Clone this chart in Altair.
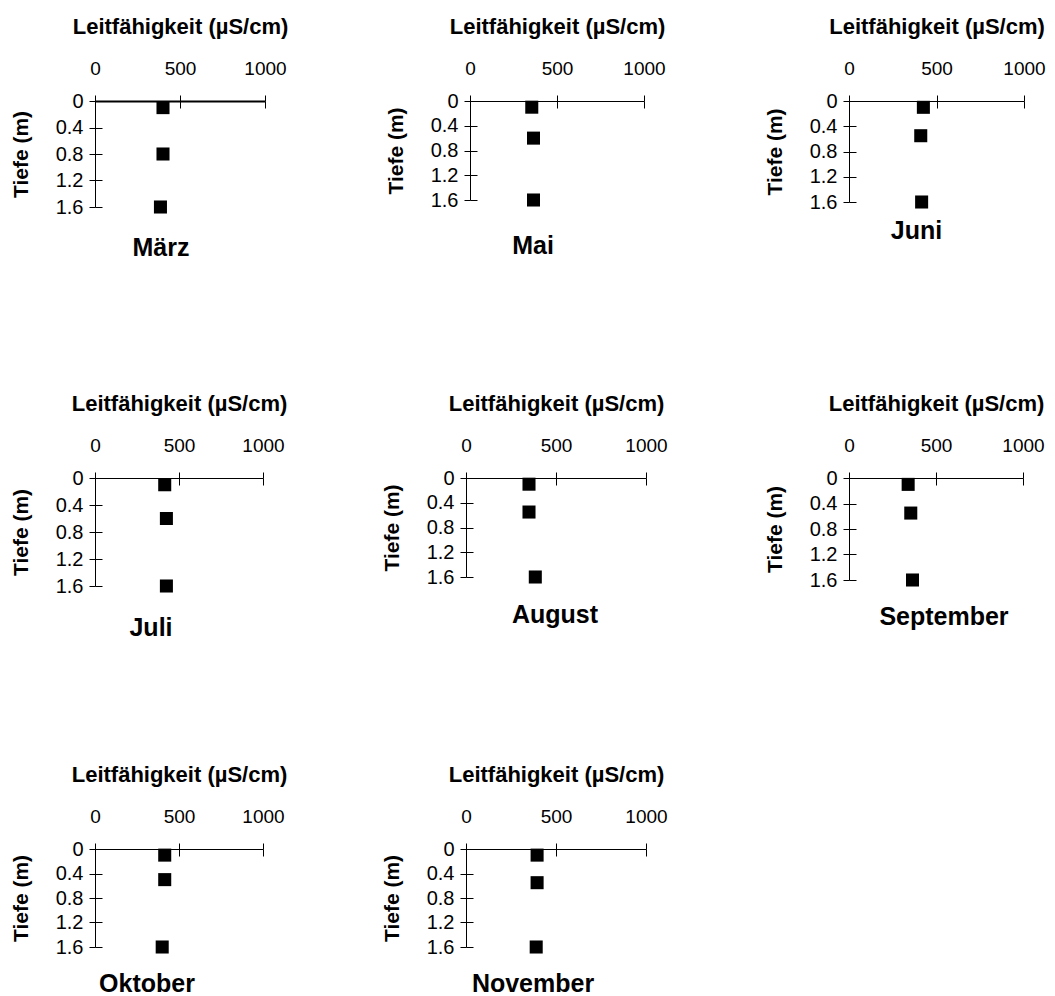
import altair as alt
import pandas as pd

# Monthly depth profiles of electrical conductivity
MONATE = ["März", "Mai", "Juni", "Juli", "August", "September", "Oktober", "November"]

TIEFE = [
    [0.1, 0.8, 1.6],   # März
    [0.1, 0.6, 1.6],   # Mai
    [0.1, 0.55, 1.6],  # Juni
    [0.1, 0.6, 1.6],   # Juli
    [0.1, 0.55, 1.6],  # August
    [0.1, 0.55, 1.6],  # September
    [0.1, 0.5, 1.6],   # Oktober
    [0.1, 0.55, 1.6],  # November
]

LEITFAEHIGKEIT = [
    [400, 400, 385],
    [355, 365, 365],
    [425, 410, 415],
    [415, 425, 425],
    [350, 350, 385],
    [340, 355, 365],
    [415, 415, 400],
    [395, 395, 390],
]

X_TICKS = [0, 500, 1000]
Y_TICKS = [0, 0.4, 0.8, 1.2, 1.6]

FONT = "Liberation Sans"

# panel geometry (plot area) and month-label placement
PANEL_W = [170, 174, 175, 168, 180, 174, 168, 180]
PANEL_H = [106, 99, 101, 108, 99, 102, 98, 98]
LABEL_DX = [-19, -24, -20, -28, -1, 8, -32, -23]
LABEL_OFFSET = [19, 24, 7, 20, 16, 15, 15, 15]
X_DOMAIN_W = [2, 1, 1, 1, 1, 1, 1, 1]
ROW_SPACING = [205, 203, 203]


def panel(i):
    df = pd.DataFrame({"Tiefe": TIEFE[i], "Leitfaehigkeit": LEITFAEHIGKEIT[i]})
    x_scale = alt.Scale(domain=[0, 1000], nice=False)
    y_scale = alt.Scale(domain=[0, 1.6], reverse=True, nice=False)

    points = alt.Chart(df).mark_point(
        shape="square", filled=True, size=170, color="black", opacity=1
    ).encode(
        x=alt.X(
            "Leitfaehigkeit:Q",
            scale=x_scale,
            axis=alt.Axis(
                orient="top",
                values=X_TICKS,
                format="d",
                title="Leitfähigkeit (µS/cm)",
                titleFontSize=22,
                titleFontWeight="bold",
                titlePadding=21,
                labelFontSize=19,
                labelPadding=17,
                tickSize=6,
                domainWidth=X_DOMAIN_W[i],
            ),
        ),
        y=alt.Y(
            "Tiefe:Q",
            scale=y_scale,
            axis=alt.Axis(
                orient="left",
                values=Y_TICKS,
                format=".1~f",
                title="Tiefe (m)",
                titleFontSize=21,
                titleFontWeight="bold",
                titlePadding=24,
                labelFontSize=20,
                labelPadding=6,
                tickSize=6,
            ),
        ),
    )

    # second set of axes: tick marks pointing into the plot, so each tick crosses the axis line
    inner = alt.Chart(df).mark_point(opacity=0).encode(
        x=alt.X(
            "Leitfaehigkeit:Q",
            scale=x_scale,
            axis=alt.Axis(
                orient="top", values=X_TICKS, labels=False, domain=False,
                title=None, offset=-7, tickSize=7,
            ),
        ),
        y=alt.Y(
            "Tiefe:Q",
            scale=y_scale,
            axis=alt.Axis(
                orient="left", values=Y_TICKS, labels=False, domain=False,
                title=None, offset=-7, tickSize=7,
            ),
        ),
    )

    return (
        alt.layer(points, inner)
        .resolve_axis(x="independent", y="independent")
        .properties(
            width=PANEL_W[i],
            height=PANEL_H[i],
            title=alt.TitleParams(
                text=MONATE[i],
                orient="bottom",
                anchor="middle",
                frame="group",
                dx=LABEL_DX[i],
                offset=LABEL_OFFSET[i],
                fontSize=25,
                font=FONT,
                fontWeight="bold",
                color="black",
            ),
        )
    )


panels = [panel(i) for i in range(len(MONATE))]
rows = [
    alt.hconcat(*panels[0:3], spacing=ROW_SPACING[0], bounds="flush"),
    alt.hconcat(*panels[3:6], spacing=ROW_SPACING[1], bounds="flush"),
    alt.hconcat(*panels[6:8], spacing=ROW_SPACING[2], bounds="flush"),
]

upper = alt.vconcat(rows[0], rows[1], spacing=377, bounds="flush")

chart = (
    alt.vconcat(upper, rows[2], spacing=748, bounds="flush")
    .properties(
        background="white",
        padding={"left": 10, "top": 15, "right": 5, "bottom": 0},
    )
    .configure_view(stroke=None)
    .configure_axis(
        labelFont=FONT,
        titleFont=FONT,
        labelColor="black",
        titleColor="black",
        domainColor="black",
        tickColor="black",
        grid=False,
        labelFlush=False,
        labelOverlap=False,
    )
)

chart.save("out.html", embed_options={"renderer": "svg", "actions": False})
